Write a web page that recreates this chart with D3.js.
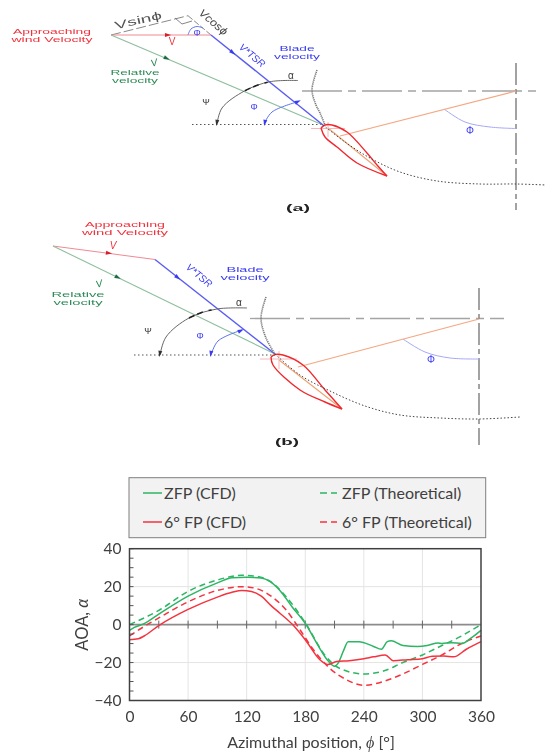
<!DOCTYPE html>
<html lang="en">
<head>
<meta charset="utf-8">
<title>AOA vs azimuthal position</title>
<script src="https://cdnjs.cloudflare.com/ajax/libs/d3/7.8.5/d3.min.js"></script>
<style>
  body { margin: 0; background: #fff; }
  svg { display: block; }
  .diagram { filter: blur(0.5px); font-family: "Liberation Sans", sans-serif; }
  .chart { filter: blur(0.3px); font-family: Lato, "Open Sans", sans-serif; }
</style>
</head>
<body>
<div id="canvas"></div>
<script>
// curves: [azimuth deg, AOA deg]
const zfpCfd = [[0,-3],[5,-1.5],[15,0.5],[30,5.5],[60,15],[90,22],[105,24.7],[120,25],[135,24.5],[144,22.6],[154,18],[167,9],[180,0.7],[192,-10],[204,-19.5],[210,-22],[214,-20],[219,-14],[224,-9],[235,-9],[250,-11.5],[258,-13],[264,-9],[268,-8.5],[280,-11],[295,-11.5],[305,-11],[316,-9.7],[320,-10],[330,-9.5],[340,-10],[350,-7],[360,-3]]
const fpCfd = [[0,-8],[9,-7.5],[15,-6],[30,-0.5],[60,8],[90,14.5],[105,17],[115,18],[125,17.5],[135,15],[145,10],[154,6],[167,0],[180,-8],[195,-18.5],[203,-21],[212,-19.5],[225,-19],[240,-18],[250,-17],[262,-16],[270,-19],[285,-18.5],[300,-18],[310,-16.7],[322,-16.5],[332,-17],[345,-13],[360,-9]]
const zfpTheory = [[0,0],[30,7.5],[60,17.5],[90,23.5],[115,26],[130,25.5],[145,22.5],[160,15],[180,1],[200,-16],[215,-23],[240,-26],[260,-24.5],[280,-20],[300,-16],[320,-11],[340,-6],[360,0]]
const fpTheory = [[0,-6],[15,-1],[30,3.5],[60,12],[90,18],[115,20],[130,19],[145,15],[160,8],[175,-3],[188,-13],[205,-23],[222,-29],[240,-32],[260,-30],[280,-26],[300,-21],[320,-16],[340,-10],[360,-6]]

const xTicks = [0, 60, 120, 180, 240, 300, 360]
const yTicks = [-40, -20, 0, 20, 40]
const legendNames = ["ZFP (CFD)", "6° FP (CFD)", "ZFP (Theoretical)", "6° FP (Theoretical)"]

// schematic geometry of the two sketches
const sketchA = {
  wind: [[111,35],[211,35]], relative: [[111,35],[323,125]], blade: [[211,35],[323,125]],
  sinLine: [[111,35],[188,15.7]], cosLine: [[188,15.7],[211,35]], square: [[175,18],[182,24],[192,21]],
  phiTri: [[188,35],[191,29],[197,26.5],[203,28]],
  ref: [[192,124.5],[323,124.5]],
  psi: [[217,124],[222,108],[245,90.7],[270,81.7],[298,80.5]], psiMark: [[245,90.7],[258,85],[270,81.7]],
  phiIn: [[264,124],[272,112],[297,102]],
  foilTop: [[321,128],[325,125],[332,125],[347,132],[367,153],[377,165],[387,176]],
  foilBottom: [[387,176],[357,163],[337,147],[325,137],[321,128]],
  crossH: [[311,128.5],[345,128.5]], crossV: [[328,122],[328,137]],
  arm: [[516,91],[340,136]], chord: [[328,128],[387,176]],
  axisH: [[302,91],[539,91]], axisV: [[516,63],[516,210]],
  phiOut: [[444,109],[465,122],[490,127],[516,128.5]],
  grayPath: [[317,70],[312,90],[316,105],[320,113],[325,125]],
  orbit: [[323,125],[345,142],[370,158],[400,172],[437,181],[480,184],[516,184],[546,185]]
}
const sketchB = {
  wind: [[53,246],[155,259.5]], relative: [[53,246],[275,354]], blade: [[155,259.5],[275,354]],
  ref: [[134,355],[275,355]],
  psi: [[160,355],[166,337],[189,318],[217,309],[247,308]], psiMark: [[189,318],[203,312],[217,309]],
  phiIn: [[211,355],[218,341],[242,330]],
  foilTop: [[271,357],[275,354.5],[283,355],[303,365],[325,390],[342,409]],
  foilBottom: [[342,409],[325,402],[300,390],[273,365],[271,357]],
  crossH: [[260,359],[297,359]], crossV: [[279,351],[279,369]],
  arm: [[479,319],[298,367]], chord: [[279,360],[342,409]],
  axisH: [[250,318.5],[504,318.5]], axisV: [[479,288],[479,445]],
  phiOut: [[403,339],[425,352],[450,358],[479,359]],
  grayPath: [[266,297],[261,318],[266,338],[275,354]],
  orbit: [[275,354],[300,375],[330,391],[365,406],[400,415],[440,418],[479,419],[520,417]]
}

const width = 546, height = 753
const svg = d3.select("#canvas").append("svg").attr("width", width).attr("height", height)
const C = { red: "#f0323c", blue: "#3a3cf0", green: "#2e8b57", gray: "#8a8a8a", dark: "#333" }

function drawSketch(p, labels) {
  const g = svg.append("g").attr("class", "diagram")
  const line = d3.line()
  const curve = d3.line().curve(d3.curveCatmullRom)
  const add = (pts, stroke, sw, dash, smooth) => pts && g.append("path")
    .attr("d", (smooth ? curve : line)(pts)).attr("fill", "none")
    .attr("stroke", stroke).attr("stroke-width", sw).attr("stroke-dasharray", dash || null)

  add(p.axisH, "#a4a4a4", 1.3, "40 6 8 6")
  add(p.axisV, "#8c8c8c", 1.6, "22 4 5 4")
  add(p.ref, "#555", 1.2, "1.5 2.5")
  add(p.sinLine, "#888", 1, "10 3")
  add(p.cosLine, "#888", 1, "6 2")
  add(p.square, "#777", 0.9)
  add(p.wind, "#ef8a92", 1)
  add(p.relative, "#8fbf9f", 1.1)
  add(p.blade, "#5a5cf2", 1.4)
  add(p.psi, "#666", 1, null, true)
  add(p.psiMark, "#222", 1.5, "6 3 6", true)
  add(p.phiIn, "#5a70f2", 1, null, true)
  add(p.phiTri, "#5a70f2", 1, null, true)
  add(p.phiOut, "#a6a8f6", 1, null, true)
  add(p.arm, "#f4a882", 1.2)
  add(p.chord, "#f0a070", 1.1)
  add(p.crossH, "#f7b6b6", 1)
  add(p.crossV, "#f7b6b6", 1)
  add(p.foilTop, "#f0282e", 1.4, null, true)
  add(p.foilBottom, "#f0282e", 1.4, null, true)
  add(p.grayPath, "#777", 1.6, "1.2 0.8", true)
  add(p.orbit, "#444", 1, "1.5 2", true)

  labels.forEach(d => {
    g.append("text").attr("x", d[1]).attr("y", d[2]).attr("fill", d[3])
      .attr("font-size", d[4] || 8).attr("text-anchor", "middle")
      .attr("font-style", d[6] || null).attr("font-weight", d[7] || null)
      .attr("textLength", d[8] || null).attr("lengthAdjust", d[8] ? "spacingAndGlyphs" : null)
      .attr("transform", d[5] ? `rotate(${d[5]} ${d[1]} ${d[2]})` : null)
      .text(d[0])
  })
  // small arrow heads along the vectors
  labels.heads.forEach(h => {
    g.append("path").attr("d", d3.symbol(d3.symbolTriangle, 7)())
      .attr("transform", `translate(${h[0]},${h[1]}) rotate(${h[2]}) scale(1,1.8)`).attr("fill", h[3])
  })
}

const labelsA = [
  ["Approaching", 52, 34, C.red, 8, 0, null, null, 78], ["wind Velocity", 52, 42, C.red, 8, 0, null, null, 81],
  ["Vsinϕ", 139, 24, "#555", 11, -13, null, null, 48], ["Vcosϕ", 211, 25, "#444", 11, 40, "italic", null, 34],
  ["V*TSR", 250, 58, C.blue, 10, 40, "italic"], ["V", 172, 45, C.red, 10], ["V", 155, 66, C.green, 10, -15, "italic"],
  ["Relative", 135, 75, C.green, 8, 0, null, null, 49], ["velocity", 135, 83, C.green, 8, 0, null, null, 46],
  ["Blade", 297, 51, C.blue, 8, 0, null, null, 35], ["velocity", 297, 59, C.blue, 8, 0, null, null, 46],
  ["α", 291, 79, "#333", 10], ["Ψ", 206, 105, "#333", 9], ["Φ", 254, 110, C.blue, 9], ["Φ", 197, 36, C.blue, 9],
  ["Φ", 470, 134, C.blue, 10], ["(a)", 298, 211, "#222", 9, 0, null, "bold", 24]
]
labelsA.heads = [[167,35,90,"#d8202c"],[232,52,129,C.blue],[166,58,113,"#1f6b3f"],[217,122,190,"#333"],[265,122,190,C.blue],[297,102,65,C.blue]]

const labelsB = [
  ["Approaching", 125, 227, C.red, 8, 0, null, null, 80], ["wind Velocity", 125, 235, C.red, 8, 0, null, null, 86],
  ["V", 113, 249, C.red, 10, 0, "italic"], ["V*TSR", 197, 278, C.blue, 10, 40, "italic"],
  ["V", 100, 287, C.green, 10, -15, "italic"], ["Relative", 78, 297, C.green, 8, 0, null, null, 53], ["velocity", 78, 305, C.green, 8, 0, null, null, 49],
  ["Blade", 245, 272, C.blue, 8, 0, null, null, 37], ["velocity", 245, 280, C.blue, 8, 0, null, null, 49],
  ["α", 239, 306, "#333", 10], ["Ψ", 148, 334, "#333", 9], ["Φ", 200, 339, C.blue, 9], ["Φ", 431, 363, C.blue, 10],
  ["(b)", 287, 445, "#222", 9, 0, null, "bold", 24]
]
labelsB.heads = [[108,253,98,"#d8202c"],[177,277,129,C.blue],[117,277,116,"#1f6b3f"],[160,353,190,"#333"],[211,353,190,C.blue],[240,331,65,C.blue]]

drawSketch(sketchA, labelsA)
drawSketch(sketchB, labelsB)

// chart
const chart = svg.append("g").attr("class", "chart")
const x = d3.scaleLinear().domain([0, 360]).range([129.5, 481])
const y = d3.scaleLinear().domain([-40, 40]).range([700.5, 548.7])
const line = d3.line().x(d => x(d[0])).y(d => y(d[1])).curve(d3.curveMonotoneX)

// legend box
chart.append("rect").attr("x", 129).attr("y", 477.7).attr("width", 356.7).attr("height", 60)
  .attr("fill", "#f2f2f2").attr("stroke", "#7f7f7f").attr("stroke-width", 1)
const legendRows = [
  { name: legendNames[0], color: "#2db564", dash: null, x0: 143, x1: 162, tx: 164, ty: 493 },
  { name: legendNames[1], color: "#f5333f", dash: null, x0: 143, x1: 162, tx: 164, ty: 522 },
  { name: legendNames[2], color: "#2db564", dash: "7 4", x0: 320, x1: 337, tx: 342, ty: 493 },
  { name: legendNames[3], color: "#f5333f", dash: "7 4", x0: 320, x1: 337, tx: 342, ty: 522 }
]
legendRows.forEach(d => {
  chart.append("line").attr("x1", d.x0).attr("x2", d.x1).attr("y1", d.ty).attr("y2", d.ty)
    .attr("stroke", d.color).attr("stroke-width", 1.5).attr("stroke-dasharray", d.dash)
  chart.append("text").attr("x", d.tx).attr("y", d.ty + 5.5).attr("font-size", 16).attr("fill", "#404040").text(d.name)
})

// grid
chart.append("g").selectAll("line").data(xTicks.slice(1, -1)).join("line")
  .attr("x1", x).attr("x2", x).attr("y1", y(-40)).attr("y2", y(40)).attr("stroke", "#e4e4e4").attr("stroke-width", 1)
chart.append("g").selectAll("line").data([-20, 20]).join("line")
  .attr("x1", x(0)).attr("x2", x(360)).attr("y1", y).attr("y2", y).attr("stroke", "#e4e4e4").attr("stroke-width", 1)

// zero line with its ticks every 30
const zeroAxis = chart.append("g").attr("transform", `translate(0,${y(0)})`)
zeroAxis.append("line").attr("x1", x(0)).attr("x2", x(360)).attr("stroke", "#8c8c8c").attr("stroke-width", 1.6)
zeroAxis.selectAll("line.t").data(d3.range(30, 360, 30)).join("line").attr("class", "t")
  .attr("x1", x).attr("x2", x).attr("y1", -4).attr("y2", 4).attr("stroke", "#666").attr("stroke-width", 1)

// series
const series = [
  { data: zfpTheory, color: "#2db564", dash: "6 4" },
  { data: fpTheory, color: "#f5333f", dash: "6 4" },
  { data: zfpCfd, color: "#2db564", dash: null },
  { data: fpCfd, color: "#f5333f", dash: null }
]
series.forEach(s => chart.append("path").attr("d", line(s.data)).attr("fill", "none")
  .attr("stroke", s.color).attr("stroke-width", 1.5).attr("stroke-dasharray", s.dash))

// left minor ticks, then frame
chart.append("g").selectAll("line").data(d3.range(-40, 41, 5)).join("line")
  .attr("x1", x(0)).attr("x2", x(0) + 4).attr("y1", y).attr("y2", y).attr("stroke", "#555").attr("stroke-width", 1)
chart.append("rect").attr("x", x(0)).attr("y", y(40)).attr("width", x(360) - x(0)).attr("height", y(-40) - y(40))
  .attr("fill", "none").attr("stroke", "#404040").attr("stroke-width", 1.5)

// tick labels through d3 axes
const xAxis = chart.append("g").attr("transform", `translate(0,${y(-40)})`)
  .call(d3.axisBottom(x).tickValues(xTicks).tickSize(0).tickPadding(10))
const yAxis = chart.append("g").attr("transform", `translate(${x(0)},0)`)
  .call(d3.axisLeft(y).tickValues(yTicks).tickSize(0).tickPadding(8))
;[xAxis, yAxis].forEach(a => {
  a.select(".domain").remove()
  a.selectAll("text").attr("font-size", 15.5).attr("font-family", "Lato, sans-serif").attr("fill", "#404040")
})

const yTitle = chart.append("text").attr("transform", `translate(88,${y(0)}) rotate(-90)`)
  .attr("text-anchor", "middle").attr("font-size", 16.5).attr("fill", "#404040")
yTitle.append("tspan").text("AOA, ")
yTitle.append("tspan").attr("font-style", "italic").text("α")

const xTitle = chart.append("text").attr("x", 311).attr("y", 748).attr("text-anchor", "middle")
  .attr("font-size", 16).attr("fill", "#404040")
xTitle.append("tspan").text("Azimuthal position, ")
xTitle.append("tspan").attr("font-style", "italic").attr("font-family", "Liberation Serif, serif").text("ϕ")
xTitle.append("tspan").text(" [°]")
</script>
</body>
</html>
